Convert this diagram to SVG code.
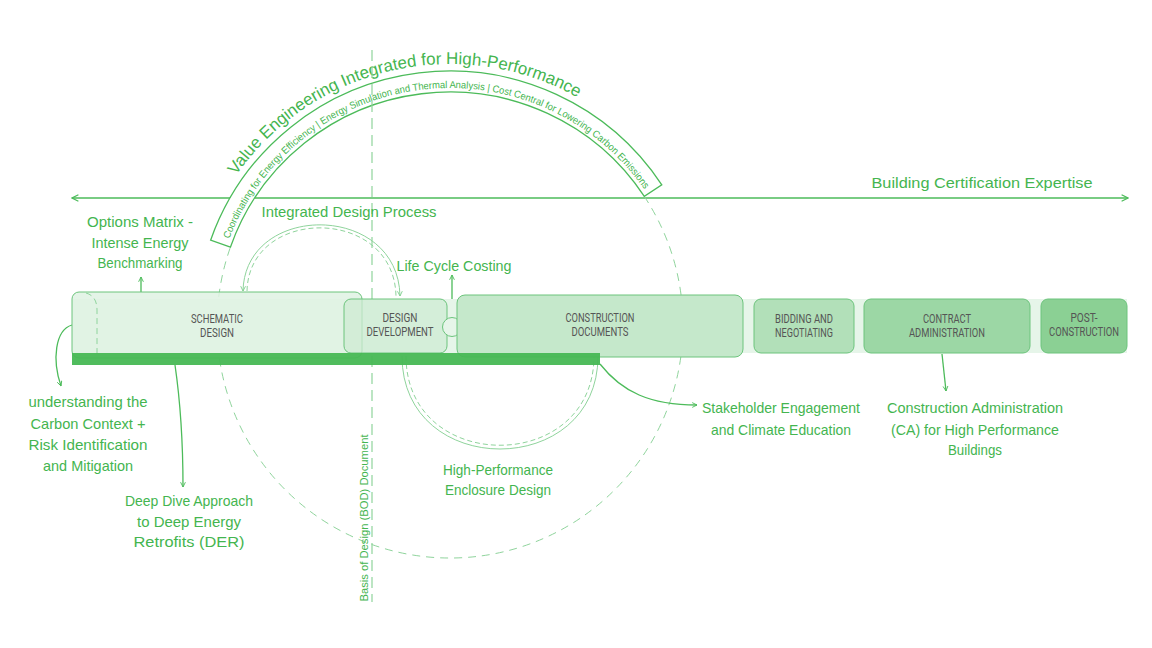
<svg xmlns="http://www.w3.org/2000/svg" width="1152" height="648" viewBox="0 0 1152 648">
<style>
.hw{font-family:"Liberation Sans",Arial,sans-serif;fill:#44b54f;font-size:15px;text-anchor:middle}
.bx{font-family:Roboto,"Liberation Sans",sans-serif;fill:#555;font-size:12px;text-anchor:middle}
.node{stroke:#6cc47c;stroke-width:1}
.ln{fill:none;stroke:#4cbb5a;stroke-width:1.3}
.lt{fill:none;stroke:#8fd49c;stroke-width:1}
.dash{stroke-dasharray:8 6}
</style>
<defs>
<marker id="ah" viewBox="0 0 10 10" refX="9" refY="5" markerUnits="userSpaceOnUse" markerWidth="8" markerHeight="8" orient="auto-start-reverse"><path d="M1,1 L9,5 L1,9" fill="none" stroke="#4cbb5a" stroke-width="1.5"/></marker>
<marker id="ahs" viewBox="0 0 10 10" refX="9" refY="5" markerUnits="userSpaceOnUse" markerWidth="6" markerHeight="6" orient="auto-start-reverse"><path d="M1,1 L9,5 L1,9" fill="none" stroke="#4cbb5a" stroke-width="1.5"/></marker>
<marker id="ahl" viewBox="0 0 10 10" refX="9" refY="5" markerUnits="userSpaceOnUse" markerWidth="6" markerHeight="6" orient="auto-start-reverse"><path d="M1,1 L9,5 L1,9" fill="none" stroke="#7fcf8e" stroke-width="1.5"/></marker>
<path id="titlePath" d="M189 325 A261 261 0 0 1 711 325"/>
<path id="subPath" d="M213 325 A237 237 0 0 1 687 325"/>
</defs>

<g id="connectors">
<line class="ln" x1="72" y1="198" x2="1128" y2="198" stroke-width="1.6" marker-start="url(#ah)" marker-end="url(#ah)"/>
<path class="lt dash" d="M644.3 196.4 A233 233 0 1 1 230.4 247.2"/>
<path class="lt" d="M243 291 C245 202 398 202 400 296" marker-start="url(#ahl)" marker-end="url(#ahl)"/>
<path class="lt" d="M247 291 C249 206 394 206 396 296" stroke-dasharray="5 3"/>
<path class="lt" d="M402 356 C402 480 598 480 598 356"/>
<path class="lt" d="M406 356 C406 475 594 475 594 356" stroke-dasharray="5 3"/>
<path class="ln" d="M141 292 L141 277" marker-end="url(#ahs)"/>
<path class="ln" d="M452 318 L452 275" marker-end="url(#ahs)"/>
<path class="ln" d="M72 325 C55 330 52 360 61 386" marker-end="url(#ahs)"/>
<path class="ln" d="M175 365 Q183 420 183 487" marker-end="url(#ahs)"/>
<path class="ln" d="M600 364 C622 392 650 405 697 405" marker-end="url(#ahs)"/>
<path class="ln" d="M942 354 L946 391" marker-end="url(#ahs)"/>
</g>

<g id="arc-band">
<path d="M230.4 247.2 L210.6 240.2 A254 254 0 0 1 661.8 184.8 L644.3 196.4 A233 233 0 0 0 230.4 247.2 Z" fill="#fff" stroke="#4cbb5a" stroke-width="1.3"/>
<text class="hw" style="text-anchor:start;font-size:17px"><textPath href="#titlePath" startOffset="159" textLength="384" lengthAdjust="spacingAndGlyphs">Value Engineering Integrated for High-Performance</textPath></text>
<text class="hw" style="text-anchor:start;font-size:10px"><textPath href="#subPath" startOffset="88" textLength="512" lengthAdjust="spacingAndGlyphs">Coordinating for Energy Efficiency | Energy Simulation and Thermal Analysis | Cost Central for Lowering Carbon Emissions</textPath></text>
</g>

<g id="bod-line">
<line x1="372" y1="50" x2="372" y2="602" stroke="#8fd49c" stroke-width="1.2" stroke-dasharray="11 6"/>
<text class="hw" transform="translate(368 518) rotate(-90)" style="font-size:11px" textLength="167" lengthAdjust="spacingAndGlyphs">Basis of Design (BOD) Document</text>
</g>

<g id="strip"><rect x="72" y="299" width="1055" height="54" fill="#e6f5e9"/></g>

<g id="schematic-design">
<rect class="node" x="72" y="292" width="290" height="66" rx="7" fill="#dff2e3" fill-opacity="0.85"/>
<path d="M86 293 Q97 296 97 310 L97 355" fill="none" stroke="#8fd49c" stroke-dasharray="6 4"/>
<text class="bx" x="217" y="323" textLength="52" lengthAdjust="spacingAndGlyphs">SCHEMATIC</text>
<text class="bx" x="217" y="337" textLength="34" lengthAdjust="spacingAndGlyphs">DESIGN</text>
</g>

<g id="design-development">
<rect class="node" x="344" y="299" width="103" height="54" rx="7" fill="#cdebd3" fill-opacity="0.75"/>
<text class="bx" x="400" y="322" textLength="35" lengthAdjust="spacingAndGlyphs">DESIGN</text>
<text class="bx" x="400" y="336" textLength="67" lengthAdjust="spacingAndGlyphs">DEVELOPMENT</text>
</g>

<g id="lcc-circle"><circle cx="452" cy="327" r="9.5" fill="#e6f5e9" stroke="#6cc47c"/></g>

<g id="construction-documents">
<rect class="node" x="457" y="295" width="286" height="62" rx="8" fill="#c5e8cb"/>
<text class="bx" x="600" y="322" textLength="69" lengthAdjust="spacingAndGlyphs">CONSTRUCTION</text>
<text class="bx" x="600" y="336" textLength="57" lengthAdjust="spacingAndGlyphs">DOCUMENTS</text>
</g>

<g id="bidding">
<rect class="node" x="754" y="299" width="100" height="54" rx="7" fill="#b2e0b9"/>
<text class="bx" x="804" y="323" textLength="58" lengthAdjust="spacingAndGlyphs">BIDDING AND</text>
<text class="bx" x="804" y="337" textLength="58" lengthAdjust="spacingAndGlyphs">NEGOTIATING</text>
</g>

<g id="contract-administration">
<rect class="node" x="864" y="299" width="166" height="54" rx="7" fill="#9cd7a5"/>
<text class="bx" x="947" y="323" textLength="48" lengthAdjust="spacingAndGlyphs">CONTRACT</text>
<text class="bx" x="947" y="337" textLength="76" lengthAdjust="spacingAndGlyphs">ADMINISTRATION</text>
</g>

<g id="post-construction">
<rect class="node" x="1041" y="299" width="86" height="54" rx="7" fill="#8bd094"/>
<text class="bx" x="1084" y="322" textLength="27" lengthAdjust="spacingAndGlyphs">POST-</text>
<text class="bx" x="1084" y="336" textLength="70" lengthAdjust="spacingAndGlyphs">CONSTRUCTION</text>
</g>

<g id="bar"><rect x="72" y="353" width="528" height="12" fill="#47b854" fill-opacity="0.95"/></g>

<g id="labels">
<text class="hw" x="140" y="227" textLength="106" lengthAdjust="spacingAndGlyphs">Options Matrix -</text>
<text class="hw" x="140" y="248" textLength="97" lengthAdjust="spacingAndGlyphs">Intense Energy</text>
<text class="hw" x="140" y="268" textLength="85" lengthAdjust="spacingAndGlyphs">Benchmarking</text>
<text class="hw" x="349" y="217" textLength="175" lengthAdjust="spacingAndGlyphs">Integrated Design Process</text>
<text class="hw" x="454" y="271" textLength="115" lengthAdjust="spacingAndGlyphs">Life Cycle Costing</text>
<text class="hw" x="982" y="188" textLength="221" lengthAdjust="spacingAndGlyphs">Building Certification Expertise</text>
<text class="hw" x="88" y="407" textLength="119" lengthAdjust="spacingAndGlyphs">understanding the</text>
<text class="hw" x="88" y="429" textLength="115" lengthAdjust="spacingAndGlyphs">Carbon Context +</text>
<text class="hw" x="88" y="450" textLength="119" lengthAdjust="spacingAndGlyphs">Risk Identification</text>
<text class="hw" x="88" y="471" textLength="90" lengthAdjust="spacingAndGlyphs">and Mitigation</text>
<text class="hw" x="189" y="506" textLength="128" lengthAdjust="spacingAndGlyphs">Deep Dive Approach</text>
<text class="hw" x="189" y="527" textLength="104" lengthAdjust="spacingAndGlyphs">to Deep Energy</text>
<text class="hw" x="189" y="547" textLength="111" lengthAdjust="spacingAndGlyphs">Retrofits (DER)</text>
<text class="hw" x="498" y="475" textLength="110" lengthAdjust="spacingAndGlyphs">High-Performance</text>
<text class="hw" x="498" y="495" textLength="106" lengthAdjust="spacingAndGlyphs">Enclosure Design</text>
<text class="hw" x="781" y="413" textLength="158" lengthAdjust="spacingAndGlyphs">Stakeholder Engagement</text>
<text class="hw" x="781" y="435" textLength="140" lengthAdjust="spacingAndGlyphs">and Climate Education</text>
<text class="hw" x="975" y="413" textLength="176" lengthAdjust="spacingAndGlyphs">Construction Administration</text>
<text class="hw" x="975" y="435" textLength="168" lengthAdjust="spacingAndGlyphs">(CA) for High Performance</text>
<text class="hw" x="975" y="455" textLength="54" lengthAdjust="spacingAndGlyphs">Buildings</text>
</g>
</svg>
